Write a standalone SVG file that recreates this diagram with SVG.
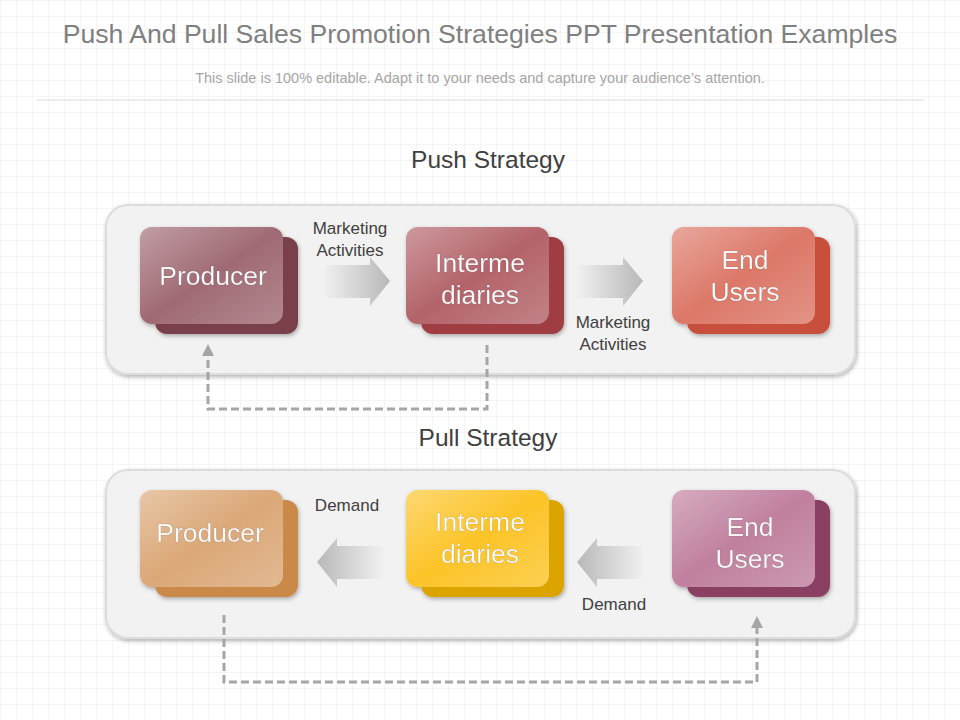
<svg xmlns="http://www.w3.org/2000/svg" width="960" height="720" viewBox="0 0 960 720">
<defs>
<pattern id="grid" width="16" height="16" patternUnits="userSpaceOnUse"><path d="M16 0H0V16" fill="none" stroke="#ececec" stroke-width="1"/></pattern>
<linearGradient id="gl" x1="0" y1="0" x2="1" y2="1"><stop offset="0" stop-color="#fff" stop-opacity="0.35"/><stop offset="0.5" stop-color="#fff" stop-opacity="0"/><stop offset="1" stop-color="#fff" stop-opacity="0.2"/></linearGradient>
<linearGradient id="ar" x1="0" x2="1"><stop offset="0" stop-color="#f2f2f2"/><stop offset="1" stop-color="#b8b8b8"/></linearGradient>
<linearGradient id="al" x1="1" x2="0"><stop offset="0" stop-color="#f2f2f2"/><stop offset="1" stop-color="#b8b8b8"/></linearGradient>
<filter id="sh" x="-10%" y="-10%" width="130%" height="130%"><feDropShadow dx="1" dy="2" stdDeviation="2" flood-opacity="0.3"/></filter>
<marker id="ah" viewBox="0 0 10 10" refX="5" refY="5" markerWidth="4" markerHeight="4" orient="auto"><path d="M0 0L10 5L0 10z" fill="#a6a6a6"/></marker>
</defs>
<style>
.t{font-family:"Liberation Sans",Arial,sans-serif}
.lbl{font-family:"Liberation Sans",Arial,sans-serif;font-size:17px;fill:#404040;text-anchor:middle}
.nt{font-family:"Liberation Sans",Arial,sans-serif;font-size:26.5px;fill:#fff;text-anchor:middle;stroke:#00000033;stroke-width:0.5}
.panel{fill:#f2f2f2;stroke:#dcdcdc;stroke-width:2}
.dash{fill:none;stroke:#a6a6a6;stroke-width:3;stroke-dasharray:8 4}
</style>
<rect width="960" height="720" fill="#fff"/>
<rect width="960" height="720" fill="url(#grid)"/>
<text class="t" x="480" y="43" font-size="26.6" fill="#808080" text-anchor="middle">Push And Pull Sales Promotion Strategies PPT Presentation Examples</text>
<text class="t" x="480" y="83" font-size="14.5" fill="#a6a6a6" text-anchor="middle">This slide is 100% editable. Adapt it to your needs and capture your audience’s attention.</text>
<line x1="36" y1="100" x2="924" y2="100" stroke="#dcdcdc"/>
<text class="t" x="488" y="168" font-size="24.5" fill="#404040" text-anchor="middle">Push Strategy</text>
<text class="t" x="488" y="446" font-size="24.5" fill="#404040" text-anchor="middle">Pull Strategy</text>
<rect class="panel" x="106" y="205" width="749" height="169" rx="22" filter="url(#sh)"/>
<rect class="panel" x="106" y="470" width="749" height="168" rx="22" filter="url(#sh)"/>
<g id="connectors">
<path d="M322 265H370V257L390 281L370 306V298H322Z" fill="url(#ar)"/>
<path d="M575 265H623V257L643 281L623 306V298H575Z" fill="url(#ar)"/>
<path d="M385 546H337V538L317 562L337 587V579H385Z" fill="url(#al)"/>
<path d="M645 546H597V538L577 562L597 587V579H645Z" fill="url(#al)"/>
<path class="dash" d="M487 345V409H208V350" marker-end="url(#ah)"/>
<path class="dash" d="M224 615V682H757V622" marker-end="url(#ah)"/>
<text class="lbl" x="350" y="234">Marketing</text>
<text class="lbl" x="350" y="256">Activities</text>
<text class="lbl" x="613" y="328">Marketing</text>
<text class="lbl" x="613" y="350">Activities</text>
<text class="lbl" x="347" y="511">Demand</text>
<text class="lbl" x="614" y="610">Demand</text>
</g>
<g id="push-producer" filter="url(#sh)"><rect x="155" y="237" width="143" height="97" rx="12" fill="#7a3f48"/><rect x="140" y="227" width="143" height="97" rx="12" fill="#a06a74"/><rect x="140" y="227" width="143" height="97" rx="12" fill="url(#gl)"/><text class="nt" x="213" y="285">Producer</text></g>
<g id="push-intermediaries" filter="url(#sh)"><rect x="421" y="237" width="143" height="97" rx="12" fill="#a03e42"/><rect x="406" y="227" width="143" height="97" rx="12" fill="#b3636a"/><rect x="406" y="227" width="143" height="97" rx="12" fill="url(#gl)"/><text class="nt" x="480" y="272">Interme</text><text class="nt" x="480" y="304">diaries</text></g>
<g id="push-endusers" filter="url(#sh)"><rect x="687" y="237" width="143" height="97" rx="12" fill="#c8503a"/><rect x="672" y="227" width="143" height="97" rx="12" fill="#dc7868"/><rect x="672" y="227" width="143" height="97" rx="12" fill="url(#gl)"/><text class="nt" x="745" y="269">End</text><text class="nt" x="745" y="301">Users</text></g>
<g id="pull-producer" filter="url(#sh)"><rect x="155" y="500" width="143" height="97" rx="12" fill="#c98a48"/><rect x="140" y="490" width="143" height="97" rx="12" fill="#dba878"/><rect x="140" y="490" width="143" height="97" rx="12" fill="url(#gl)"/><text class="nt" x="210" y="542">Producer</text></g>
<g id="pull-intermediaries" filter="url(#sh)"><rect x="421" y="500" width="143" height="97" rx="12" fill="#dca400"/><rect x="406" y="490" width="143" height="97" rx="12" fill="#fcc428"/><rect x="406" y="490" width="143" height="97" rx="12" fill="url(#gl)"/><text class="nt" x="480" y="531">Interme</text><text class="nt" x="480" y="563">diaries</text></g>
<g id="pull-endusers" filter="url(#sh)"><rect x="687" y="500" width="143" height="97" rx="12" fill="#8a4062"/><rect x="672" y="490" width="143" height="97" rx="12" fill="#c0809e"/><rect x="672" y="490" width="143" height="97" rx="12" fill="url(#gl)"/><text class="nt" x="750" y="536">End</text><text class="nt" x="750" y="568">Users</text></g>
</svg>
